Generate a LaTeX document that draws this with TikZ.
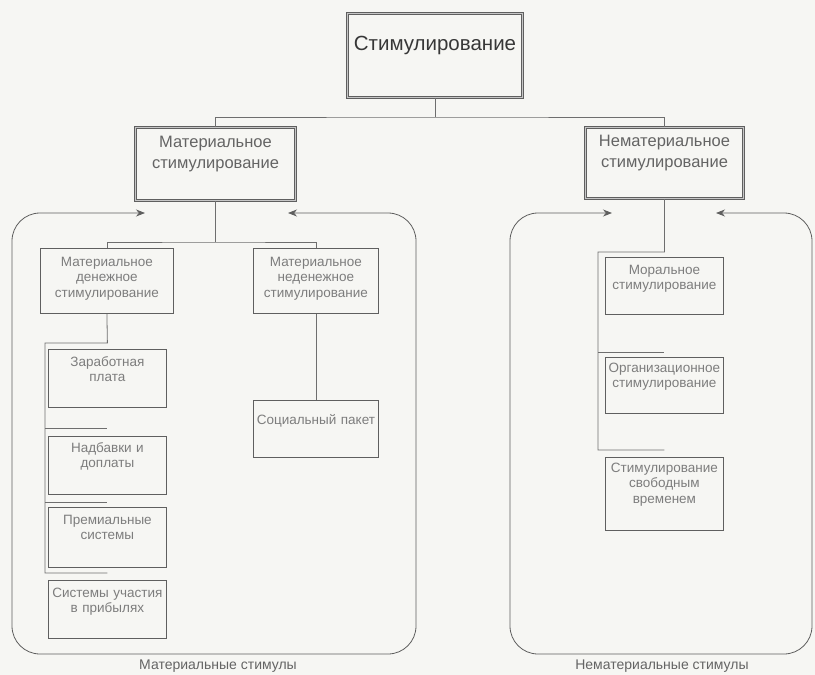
\documentclass[tikz,border=0pt]{standalone}
\usepackage{fontspec}
\setmainfont{Liberation Sans}
\usetikzlibrary{arrows.meta}

\definecolor{bg}{RGB}{246,246,243}
\definecolor{ln}{RGB}{110,110,110}
\definecolor{frm}{RGB}{95,95,95}
\definecolor{txa}{RGB}{55,55,55}
\definecolor{txb}{RGB}{100,100,100}
\definecolor{txc}{RGB}{125,125,125}

\tikzset{
  conn/.style={draw=ln, line width=0.8pt},
  cell/.style={draw=frm, line width=0.8pt, inner xsep=1pt, inner ysep=0pt,
    align=center, anchor=north west, font=\fontsize{13.5}{15.5}\selectfont, text=txc},
  dbl/.style={draw=frm, line width=1pt, double=gray!45, double distance=1.4pt,
    inner xsep=1pt, inner ysep=0pt, align=center, anchor=north west},
  lvl/.style={dbl, font=\fontsize{16.5}{21}\selectfont, text=txb},
  rootbox/.style={dbl, font=\fontsize{20.5}{24}\selectfont, text=txa},
  groupframe/.style={draw=frm, line width=0.8pt, rounded corners=28pt,
    {Stealth[length=9pt,width=7pt]}-{Stealth[length=9pt,width=7pt]}},
  frametitle/.style={anchor=base, font=\fontsize{14}{16}\selectfont, text=txb, inner sep=0pt}
}

\begin{document}
\begin{tikzpicture}[x=1pt, y=-1pt]
  % page
  \fill[bg] (0,0) rectangle (815,675);
  \useasboundingbox (0,0) rectangle (815,675);

  % group frames with inward arrows
  \coordinate (lfR) at (288,213);
  \coordinate (lfL) at (145,213);
  \draw[groupframe] (lfR) -- (416,213) -- (416,654) -- (12,654) -- (12,213) -- (lfL);
  \coordinate (rfR) at (716,213);
  \coordinate (rfL) at (612,213);
  \draw[groupframe] (rfR) -- (812,213) -- (812,654) -- (510,654) -- (510,213) -- (rfL);

  \node[frametitle] (lblM) at (218,669) {Материальные стимулы};
  \node[frametitle] (lblN) at (662,669) {Нематериальные стимулы};

  % root
  \node[rootbox, text width=173pt, text height=37pt, text depth=47pt] (root) at (347,13) {Стимулирование};

  % second level
  \node[lvl, text width=158pt, text height=20pt, text depth=53pt] (mat) at (135,127) {Материальное\\стимулирование};
  \node[lvl, text width=156pt, text height=19pt, text depth=52pt] (nm) at (585,127) {Нематериальное\\стимулирование};

  % material branch
  \node[cell, text width=131pt, text height=18pt, text depth=47pt] (mden) at (40,248) {Материальное\\денежное\\стимулирование};
  \node[cell, text width=123pt, text height=18pt, text depth=47pt] (mnd) at (253,248) {Материальное\\неденежное\\стимулирование};
  \node[cell, text width=116pt, text height=17pt, text depth=41pt] (zp) at (48,349) {Заработная\\плата};
  \node[cell, text width=116pt, text height=16pt, text depth=42pt] (nd) at (48,436) {Надбавки и\\доплаты};
  \node[cell, text width=116pt, text height=17pt, text depth=43pt] (pr) at (48,507) {Премиальные\\системы};
  \node[cell, text width=116pt, text height=17pt, text depth=41pt] (su) at (48,580) {Системы участия\\в прибылях};
  \node[cell, text width=123pt, text height=24pt, text depth=33pt] (soc) at (253,400) {Социальный пакет};

  % non-material branch
  \node[cell, text width=116pt, text height=17pt, text depth=40pt] (mor) at (605,257) {Моральное\\стимулирование};
  \node[cell, text width=116pt, text height=15pt, text depth=41pt] (org) at (605,357) {Организационное\\стимулирование};
  \node[cell, text width=116pt, text height=15pt, text depth=58pt] (svb) at (605,457) {Стимулирование\\свободным\\временем};

  % root to second level
  \coordinate (topbus) at (root.south |- 0,117);
  \draw[conn] (root.south) -- (topbus);
  \draw[conn] (mat.north) |- (topbus) -| (nm.north);

  % material: two kinds
  \coordinate (matbus) at (mat.south |- 0,242);
  \draw[conn] (mat.south) -- (matbus);
  \draw[conn] (mden.north) |- (matbus) -| (mnd.north);
  \draw[conn] (mnd.south) -- (soc.north);

  % money forms: spine on the left
  \coordinate (zpb) at ([yshift=6pt]zp.north);
  \coordinate (ndb) at ([yshift=8pt]nd.north);
  \coordinate (prb) at ([yshift=5pt]pr.north);
  \coordinate (sub) at ([yshift=7pt]su.north);
  \coordinate (spTop) at (45,0 |- zpb);
  \coordinate (spBot) at (45,0 |- sub);
  \draw[conn] (mden.south) -- (zpb) -- (spTop) -- (spBot) -- (sub);
  \draw[conn] (spTop |- ndb) -- (ndb);
  \draw[conn] (spTop |- prb) -- (prb);

  % non-material forms
  \coordinate (morb) at ([yshift=5pt]mor.north);
  \coordinate (orgb) at ([yshift=5pt]org.north);
  \coordinate (svbb) at ([yshift=7pt]svb.north);
  \coordinate (rsTop) at (598,0 |- morb);
  \coordinate (rsBot) at (598,0 |- svbb);
  \draw[conn] (nm.south) -- (morb) -- (rsTop) -- (rsBot) -- (svbb);
  \draw[conn] (rsTop |- orgb) -- (orgb);
\end{tikzpicture}
\end{document}
